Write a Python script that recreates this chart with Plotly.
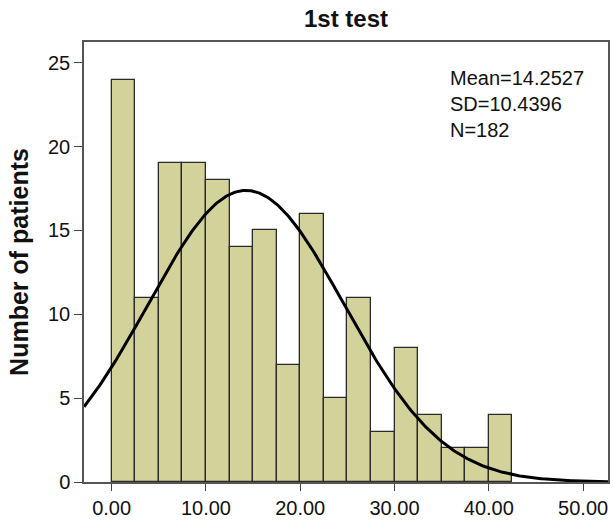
import numpy as np
import plotly.graph_objects as go

bin_start = 0.0
bin_width = 2.5
counts = [24, 11, 19, 19, 18, 14, 15, 7, 16, 5, 11, 3, 8, 4, 2, 2, 4]
mean = 14.2527
sd = 10.4396
n = 182
x_ticks = [0, 10, 20, 30, 40, 50]
x_tick_labels = ["0.00", "10.00", "20.00", "30.00", "40.00", "50.00"]
y_ticks = [0, 5, 10, 15, 20, 25]

centers = [bin_start + bin_width * (i + 0.5) for i in range(len(counts))]

xr = [-2.93, 52.64]
xc = np.linspace(xr[0], xr[1], 400)
yc = n * bin_width / (sd * np.sqrt(2 * np.pi)) * np.exp(-((xc - mean) ** 2) / (2 * sd ** 2))

fig = go.Figure()
fig.add_trace(go.Bar(x=centers, y=counts, width=bin_width,
                     marker=dict(color="#d3d29a", line=dict(color="#2a2a2a", width=1.3)),
                     showlegend=False))
fig.add_trace(go.Scatter(x=xc, y=yc, mode="lines", line=dict(color="black", width=3),
                         showlegend=False, cliponaxis=True))

fig.add_annotation(x=0.694, y=0.948, xref="paper", yref="paper", xanchor="left", yanchor="top",
                   align="left", showarrow=False,
                   text=f"Mean={mean}<br>SD={sd}<br>N={n}",
                   font=dict(family="Liberation Sans, Arial", size=20, color="#111"))

fig.update_layout(
    width=613, height=523,
    margin=dict(l=84, r=3, t=42, b=41),
    paper_bgcolor="white", plot_bgcolor="white",
    bargap=0,
    font=dict(family="Liberation Sans, Arial", size=20, color="#111"),
    title=dict(text="<b>1st test</b>", x=0.5, xref="paper", xanchor="center",
               y=1 - 18.5 / 523, yanchor="middle",
               font=dict(size=24, color="#111")),
)
fig.update_xaxes(range=xr, tickvals=x_ticks, ticktext=x_tick_labels, ticks="outside",
                 ticklen=7, tickcolor="#444", showgrid=False, zeroline=False,
                 showline=True, linecolor="#555", linewidth=1.5, mirror=True)
fig.update_yaxes(range=[0, 26.24], tickvals=y_ticks, ticks="outside", ticklen=8,
                 tickcolor="#444", showgrid=False, zeroline=False,
                 showline=True, linecolor="#555", linewidth=1.5, mirror=True,
                 title=dict(text="<b>Number of patients</b>", font=dict(size=25), standoff=12))

fig.write_html("out.html")
